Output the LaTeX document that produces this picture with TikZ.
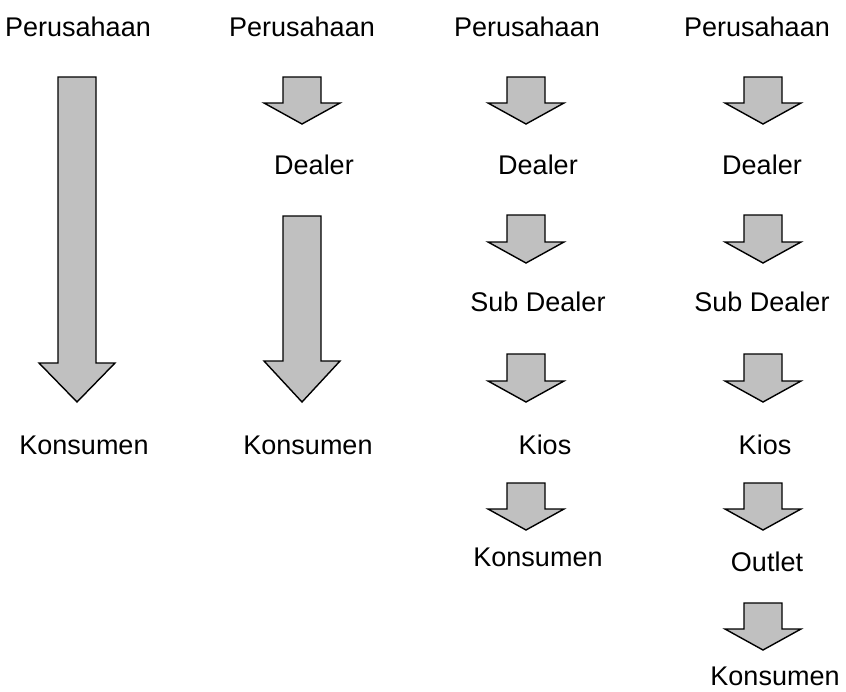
\documentclass[tikz,border=0pt]{standalone}
\usepackage{fontspec}
\setmainfont{Liberation Sans}
\tikzset{
  lbl/.style={font=\fontsize{27}{30}\selectfont, inner sep=0pt, anchor=center},
  blockarrow/.style={draw=black, line width=1.4pt, fill=arrowgray, line join=miter}
}
\definecolor{arrowgray}{HTML}{C0C0C0}
% block arrow: centre x, top y, shoulder y, tip y, shaft half width, head half width
\newcommand\downblock[6]{%
  \draw[blockarrow] (#1-#5,#2) -- (#1+#5,#2) -- (#1+#5,#3) -- (#1+#6,#3)
    -- (#1,#4) -- (#1-#6,#3) -- (#1-#5,#3) -- cycle;}
\begin{document}
\begin{tikzpicture}[x=1pt,y=-1pt]
\useasboundingbox (0,0) rectangle (846,691);

% column 1: direct
\node[lbl] (p1) at (78,27) {Perusahaan};
\node[lbl] (k1) at (84,445) {Konsumen};
\downblock{77}{77}{363}{402}{19}{38}

% column 2: via dealer
\node[lbl] (p2) at (302,27) {Perusahaan};
\node[lbl] (d2) at (314,165) {Dealer};
\node[lbl] (k2) at (308,445) {Konsumen};
\downblock{302}{77}{103}{124}{19}{38}
\downblock{302}{216}{361}{402}{19}{38}

% column 3: via dealer, sub dealer and kios
\node[lbl] (p3) at (527,27) {Perusahaan};
\node[lbl] (d3) at (538,165) {Dealer};
\node[lbl] (s3) at (538,302) {Sub Dealer};
\node[lbl] (i3) at (545,445) {Kios};
\node[lbl] (k3) at (538,557) {Konsumen};
\downblock{526}{77}{103}{124}{19}{38}
\downblock{526}{215}{242}{263}{19}{38}
\downblock{526}{354}{381}{402}{19}{38}
\downblock{526}{483}{509}{530}{19}{38}

% column 4: via dealer, sub dealer, kios and outlet
\node[lbl] (p4) at (757,27) {Perusahaan};
\node[lbl] (d4) at (762,165) {Dealer};
\node[lbl] (s4) at (762,302) {Sub Dealer};
\node[lbl] (i4) at (765,445) {Kios};
\node[lbl] (o4) at (767,562) {Outlet};
\node[lbl] (k4) at (775,676) {Konsumen};
\downblock{763}{77}{103}{124}{19}{38}
\downblock{763}{215}{242}{263}{19}{38}
\downblock{763}{354}{381}{402}{19}{38}
\downblock{763}{483}{509}{530}{19}{38}
\downblock{763}{603}{629}{650}{19}{38}
\end{tikzpicture}
\end{document}
